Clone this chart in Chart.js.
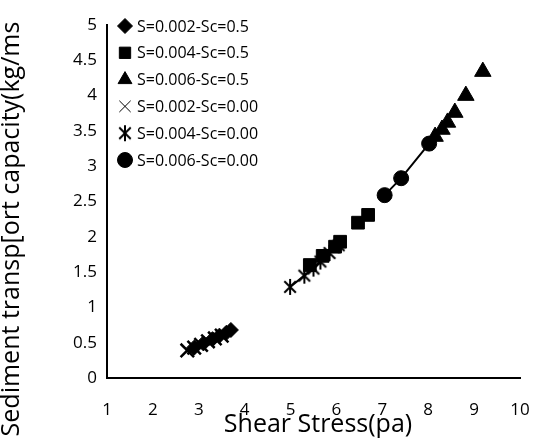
<!DOCTYPE html>
<html>
<head>
<meta charset="utf-8">
<script src="https://cdn.jsdelivr.net/npm/chart.js@4/dist/chart.umd.min.js"></script>
<style>
  html, body { margin: 0; padding: 0; background: #fff; }
  #wrap { width: 537px; height: 438px; }
</style>
</head>
<body>
<div id="wrap"><canvas id="chart"></canvas></div>
<script>
// series names
const seriesLabels = [
  "S=0.002-Sc=0.5",
  "S=0.004-Sc=0.5",
  "S=0.006-Sc=0.5",
  "S=0.002-Sc=0.00",
  "S=0.004-Sc=0.00",
  "S=0.006-Sc=0.00",
];

// shear stress (pa) / sediment transport capacity
const stress_S002_Sc05 = [2.9, 3.1, 3.3, 3.45, 3.6, 3.7];
const capacity_S002_Sc05 = [0.43, 0.49, 0.55, 0.6, 0.64, 0.68];

const stress_S004_Sc05 = [5.42, 5.7, 5.97, 6.08, 6.47, 6.69];
const capacity_S004_Sc05 = [1.6, 1.73, 1.86, 1.93, 2.2, 2.31];

const stress_S006_Sc05 = [8.15, 8.3, 8.42, 8.58, 8.82, 9.19];
const capacity_S006_Sc05 = [3.42, 3.52, 3.62, 3.76, 4.0, 4.34];

const stress_S002_Sc0 = [2.75, 2.9, 3.05, 3.2, 3.35, 3.5];
const capacity_S002_Sc0 = [0.39, 0.43, 0.47, 0.52, 0.56, 0.6];

const stress_S004_Sc0 = [4.99, 5.3, 5.5, 5.65, 5.85, 6.05];
const capacity_S004_Sc0 = [1.29, 1.45, 1.55, 1.65, 1.77, 1.88];

const stress_S006_Sc0 = [7.05, 7.41, 8.02];
const capacity_S006_Sc0 = [2.59, 2.83, 3.32];

const xTicks = [1, 2, 3, 4, 5, 6, 7, 8, 9, 10];
const yTicks = [0, 0.5, 1, 1.5, 2, 2.5, 3, 3.5, 4, 4.5, 5];

const FONT = "'Open Sans', 'DejaVu Sans', sans-serif";

function toPoints(xs, ys) {
  return xs.map((x, i) => ({ x: x, y: ys[i] }));
}

// excel style asterisk: X with a vertical bar
function makeAsterisk(r) {
  const c = document.createElement("canvas");
  const s = Math.ceil(r * 2 + 4);
  c.width = s;
  c.height = s;
  const g = c.getContext("2d");
  const m = s / 2;
  const d = r * 0.72;
  g.strokeStyle = "#000";
  g.lineWidth = 2;
  g.beginPath();
  g.moveTo(m - d, m - d);
  g.lineTo(m + d, m + d);
  g.moveTo(m + d, m - d);
  g.lineTo(m - d, m + d);
  g.moveTo(m, m - r);
  g.lineTo(m, m + r);
  g.stroke();
  return c;
}
const asterisk = makeAsterisk(8);

function series(label, xs, ys, style, radius, line) {
  return {
    label: label,
    data: toPoints(xs, ys),
    pointStyle: style,
    pointRadius: radius,
    pointHoverRadius: radius,
    pointBackgroundColor: "#000",
    pointBorderColor: "#000",
    pointBorderWidth: style === "crossRot" ? 2.5 : 1,
    borderColor: "#000",
    borderWidth: 2,
    showLine: line,
  };
}

const datasets = [
  series(seriesLabels[0], stress_S002_Sc05, capacity_S002_Sc05, "rectRot", 7.5, false),
  series(seriesLabels[1], stress_S004_Sc05, capacity_S004_Sc05, "rect", 9, false),
  series(seriesLabels[2], stress_S006_Sc05, capacity_S006_Sc05, "triangle", 9.5, false),
  series(seriesLabels[3], stress_S002_Sc0, capacity_S002_Sc0, "crossRot", 9.5, true),
  series(seriesLabels[4], stress_S004_Sc0, capacity_S004_Sc0, asterisk, 8, true),
  series(seriesLabels[5], stress_S006_Sc0, capacity_S006_Sc0, "circle", 7.5, true),
];

// legend inside the plot + axis titles the way excel placed them
const excelBits = {
  id: "excelBits",
  afterDraw(chart) {
    const ctx = chart.ctx;
    ctx.save();
    ctx.fillStyle = "#000";
    ctx.textBaseline = "middle";
    ctx.font = "16px " + FONT;
    chart.data.datasets.forEach((ds, i) => {
      const y = 26 + i * 26.8;
      Chart.helpers.drawPoint(
        ctx,
        {
          pointStyle: ds.pointStyle,
          radius: Math.min(ds.pointRadius, 8),
          rotation: 0,
          borderWidth: ds.pointBorderWidth,
        },
        125,
        y
      );
      ctx.fillStyle = "#000";
      ctx.textAlign = "left";
      ctx.fillText(ds.label, 137, y + 1);
    });

    ctx.font = "25px " + FONT;
    ctx.textAlign = "center";
    ctx.fillText("Shear Stress(pa)", 318, 425);

    ctx.translate(12, 229);
    ctx.rotate(-Math.PI / 2);
    ctx.fillText("Sediment transp[ort capacity(kg/ms", 0, 0);
    ctx.restore();
  },
};

new Chart(document.getElementById("chart"), {
  type: "scatter",
  data: { datasets: datasets },
  plugins: [excelBits],
  options: {
    responsive: true,
    maintainAspectRatio: false,
    animation: false,
    events: [],
    layout: { padding: { top: 25, right: 17, bottom: 0, left: 0 } },
    plugins: {
      legend: { display: false },
      tooltip: { enabled: false },
    },
    scales: {
      x: {
        type: "linear",
        min: xTicks[0],
        max: xTicks[xTicks.length - 1],
        afterBuildTicks: (axis) => {
          axis.ticks = xTicks.map((v) => ({ value: v }));
        },
        afterFit: (axis) => {
          axis.height = 60;
          axis.paddingLeft = 0;
          axis.paddingRight = 0;
        },
        grid: { display: false, drawTicks: false },
        border: { display: true, color: "#000", width: 2 },
        ticks: {
          padding: 22,
          color: "#000",
          font: { family: FONT, size: 17 },
          maxRotation: 0,
          callback: (v) => String(v),
        },
      },
      y: {
        type: "linear",
        min: yTicks[0],
        max: yTicks[yTicks.length - 1],
        afterBuildTicks: (axis) => {
          axis.ticks = yTicks.map((v) => ({ value: v }));
        },
        afterFit: (axis) => {
          axis.width = 107;
          axis.paddingTop = 0;
          axis.paddingBottom = 0;
        },
        grid: { display: false, drawTicks: false },
        border: { display: true, color: "#000", width: 2 },
        ticks: {
          padding: 10,
          color: "#000",
          font: { family: FONT, size: 17 },
          callback: (v) => String(v),
        },
      },
    },
  },
});
</script>
</body>
</html>
